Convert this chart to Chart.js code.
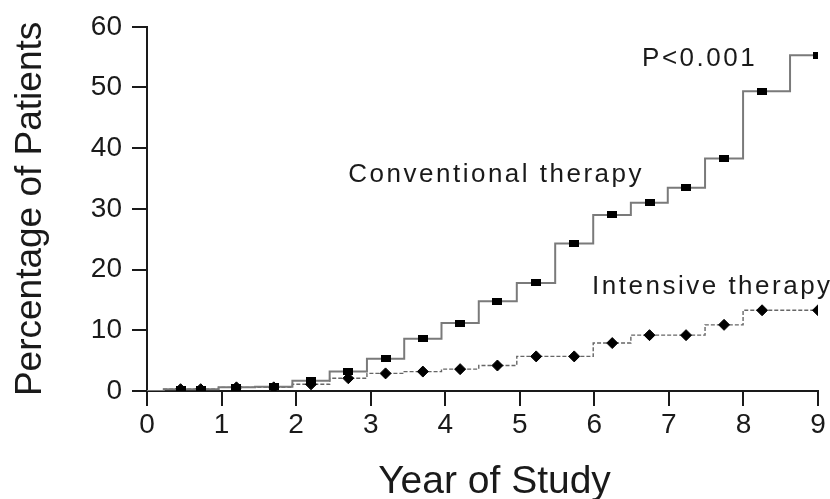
<!DOCTYPE html>
<html>
<head>
<meta charset="utf-8">
<title>Year of Study</title>
<script src="https://cdn.jsdelivr.net/npm/chart.js@4/dist/chart.umd.min.js"></script>
<style>
  html, body { margin: 0; padding: 0; background: #fff; }
  #wrap { width: 830px; height: 499px; }
</style>
</head>
<body>
<div id="wrap"><canvas id="chart" width="830" height="499"></canvas></div>
<script>
'use strict';

// ── Data ──────────────────────────────────────────────────────
const years        = [0, 0.45, 0.72, 1.2, 1.7, 2.2, 2.7, 3.2, 3.7, 4.2, 4.7, 5.22, 5.73, 6.24, 6.74, 7.23, 7.74, 8.25, 9.0];
const conventional = [0, 0.3, 0.3, 0.6, 0.7, 1.7, 3.2, 5.3, 8.6, 11.2, 14.8, 17.8, 24.3, 29.0, 31.0, 33.5, 38.3, 49.4, 55.3];
const intensive    = [0, 0.3, 0.3, 0.6, 0.6, 1.1, 2.1, 2.9, 3.2, 3.6, 4.2, 5.7, 5.7, 7.9, 9.2, 9.2, 10.9, 13.3, 13.3];
const xTicks       = [0, 1, 2, 3, 4, 5, 6, 7, 8, 9];
const yTicks       = [0, 10, 20, 30, 40, 50, 60];

// text labels placed in data units
const notes = [
  { text: 'P<0.001',              x: 6.64, y: 53.5 },
  { text: 'Conventional therapy', x: 2.70, y: 34.4 },
  { text: 'Intensive therapy',    x: 5.97, y: 16.0 },
];

// ── Helpers ───────────────────────────────────────────────────
const FONT = '"Liberation Sans", Arial, Helvetica, sans-serif';
const INK  = '#1a1a1a';

function el(id) { return document.getElementById(id); }

function toPoints(xs, ys) {
  return xs.map((x, i) => ({ x, y: ys[i] }));
}

// small filled rectangle marker (wider than tall)
function rectMarker(w, h) {
  const c = document.createElement('canvas');
  c.width = w; c.height = h;
  const g = c.getContext('2d');
  g.fillStyle = '#000';
  g.fillRect(0, 0, w, h);
  return c;
}

const squareMark = rectMarker(10, 7);

// ── Notes + x title plugin ────────────────────────────────────
const notesPlugin = {
  id: 'notes',
  afterDatasetsDraw(chart) {
    const { ctx, scales, chartArea } = chart;
    ctx.save();
    ctx.fillStyle = INK;
    ctx.textAlign = 'left';
    ctx.textBaseline = 'alphabetic';
    ctx.font = `26px ${FONT}`;
    ctx.letterSpacing = '2.5px';
    notes.forEach((n) => {
      ctx.fillText(n.text, scales.x.getPixelForValue(n.x), scales.y.getPixelForValue(n.y));
    });

    // x axis title, sits a little right of the plot centre
    ctx.letterSpacing = '0px';
    ctx.textAlign = 'center';
    ctx.font = `39px ${FONT}`;
    ctx.fillText('Year of Study', (chartArea.left + chartArea.right) / 2 + 12, chart.height - 6);
    ctx.restore();
  },
};

// ── Chart ─────────────────────────────────────────────────────
function hideFirst(size) {
  return (c) => (c.dataIndex === 0 ? 0 : size);
}

new Chart(el('chart').getContext('2d'), {
  type: 'line',
  data: {
    datasets: [
      {
        label: 'Conventional therapy',
        data: toPoints(years, conventional),
        stepped: 'middle',
        borderColor: '#7a7a7a',
        borderWidth: 2,
        pointStyle: squareMark,
        pointRadius: hideFirst(5),
        pointHoverRadius: 0,
      },
      {
        label: 'Intensive therapy',
        data: toPoints(years, intensive),
        stepped: 'middle',
        borderColor: '#666',
        borderWidth: 1.4,
        borderDash: [4, 2],
        pointStyle: 'rectRot',
        pointRadius: hideFirst(5.5),
        pointBackgroundColor: '#000',
        pointBorderColor: '#000',
        pointBorderWidth: 1,
        pointHoverRadius: 0,
      },
    ],
  },
  options: {
    responsive: false,
    animation: false,
    events: [],
    layout: { padding: { top: 20, right: 12, left: 0, bottom: 0 } },
    plugins: {
      legend: { display: false },
      tooltip: { enabled: false },
    },
    scales: {
      x: {
        type: 'linear',
        min: 0,
        max: 9,
        afterBuildTicks: (s) => { s.ticks = xTicks.map((v) => ({ value: v })); },
        afterFit: (s) => { s.height = 108; },
        border: { display: true, color: INK, width: 2 },
        grid: { drawOnChartArea: false, drawTicks: true, tickLength: 15, color: INK, lineWidth: 2 },
        ticks: { color: INK, padding: 2, maxRotation: 0, font: { family: FONT, size: 28 } },
        title: { display: false },
      },
      y: {
        min: 0,
        max: 60,
        afterBuildTicks: (s) => { s.ticks = yTicks.map((v) => ({ value: v })); },
        afterFit: (s) => { s.width = 147; },
        border: { display: true, color: INK, width: 2 },
        grid: { drawOnChartArea: false, drawTicks: true, tickLength: 15, color: INK, lineWidth: 2 },
        ticks: { color: INK, padding: 10, font: { family: FONT, size: 28 } },
        title: {
          display: true,
          text: 'Percentage of Patients',
          color: INK,
          font: { family: FONT, size: 37, lineHeight: 1 },
          padding: { top: 12, bottom: 0 },
        },
      },
    },
  },
  plugins: [notesPlugin],
});
</script>
</body>
</html>
